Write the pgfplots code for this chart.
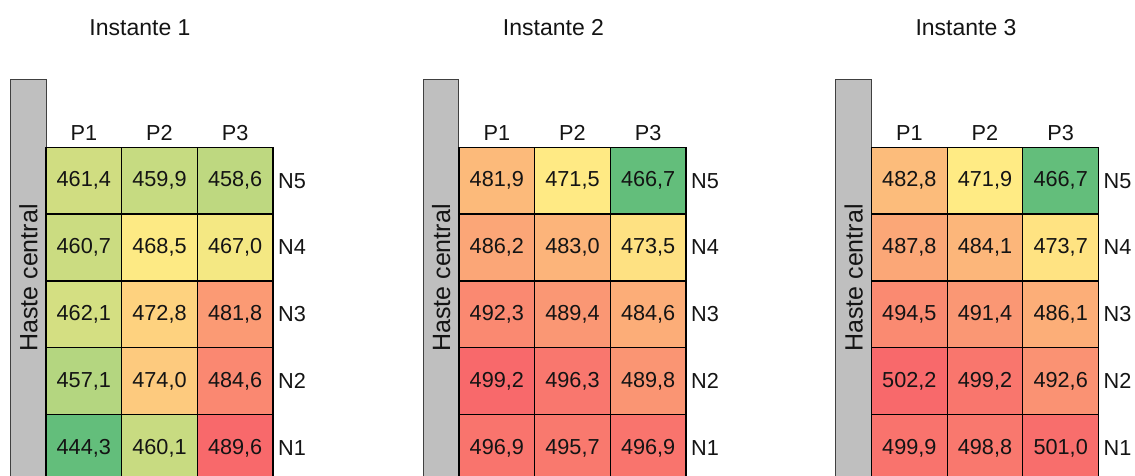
\documentclass[border=0pt]{standalone}
\usepackage{pgfplots}
\pgfplotsset{compat=1.18}
\usepackage{pgfplotstable}
\usepackage{fontspec}
\setmainfont{Liberation Sans}
\definecolor{hastegray}{RGB}{191,191,191}
\definecolor{txt}{RGB}{20,20,20}

% Instante 1 (x: P1=0,P2=1,P3=2 ; y: N1=1 ... N5=5)
\pgfplotstableread{
x y v
0 1 444.3
1 1 460.1
2 1 489.6
0 2 457.1
1 2 474.0
2 2 484.6
0 3 462.1
1 3 472.8
2 3 481.8
0 4 460.7
1 4 468.5
2 4 467.0
0 5 461.4
1 5 459.9
2 5 458.6
}\dataA
% Instante 2
\pgfplotstableread{
x y v
0 1 496.9
1 1 495.7
2 1 496.9
0 2 499.2
1 2 496.3
2 2 489.8
0 3 492.3
1 3 489.4
2 3 484.6
0 4 486.2
1 4 483.0
2 4 473.5
0 5 481.9
1 5 471.5
2 5 466.7
}\dataB
% Instante 3
\pgfplotstableread{
x y v
0 1 499.9
1 1 498.8
2 1 501.0
0 2 502.2
1 2 499.2
2 2 492.6
0 3 494.5
1 3 491.4
2 3 486.1
0 4 487.8
1 4 484.1
2 4 473.7
0 5 482.8
1 5 471.9
2 5 466.7
}\dataC

\pgfplotsset{
  colormap={hA}{rgb255(0pt)=(99,190,123) rgb255(24.5pt)=(255,235,132) rgb255(45.3pt)=(248,105,107)},
  colormap={hB}{rgb255(0pt)=(99,190,123) rgb255(4.6pt)=(255,235,132) rgb255(32.5pt)=(248,105,107)},
  colormap={hC}{rgb255(0pt)=(99,190,123) rgb255(5.1pt)=(255,235,132) rgb255(35.5pt)=(248,105,107)},
  panel/.style={
    scale only axis, width=227pt, height=333.9pt,
    anchor=south west,
    xmin=-0.5, xmax=2.5, ymin=0.5, ymax=5.5,
    xtick={0,1,2}, xticklabels={P1,P2,P3}, xticklabel pos=upper,
    ytick={1,2,3,4,5}, yticklabels={N1,N2,N3,N4,N5}, yticklabel pos=right,
    major tick length=0pt, minor tick length=0pt,
    minor xtick={0.5,1.5}, minor ytick={1.5,2.5,3.5,4.5},
    xminorgrids, yminorgrids,
    minor grid style={black, line width=1.3pt},
    axis line style={black, line width=1.3pt},
    axis on top,
    tick label style={font=\fontsize{21.7}{26}\selectfont, text=txt, inner sep=0pt},
    xticklabel style={anchor=south, yshift=6.5pt},
    yticklabel style={anchor=west, xshift=5pt},
  },
  cellnum/.style={
    draw=none, mark=none, point meta=explicit,
    nodes near coords={\pgfmathprintnumber[fixed,fixed zerofill,precision=1,use comma,assume math mode=true]{\pgfplotspointmeta}},
    nodes near coords align=center,
    every node near coord/.append style={font=\fontsize{21.7}{26}\selectfont, text=txt, inner sep=0pt},
  },
}

\begin{document}
\begin{tikzpicture}[x=1pt,y=1pt]
\useasboundingbox (0,0) rectangle (1135,475);
\clip (0,0) rectangle (1135,475);

% central bars
\foreach \bx in {10.7,423.3,835.8}{
  \draw[fill=hastegray, draw=black!75, line width=1pt] (\bx,-20) rectangle ({\bx+35.5},395);
  \node[rotate=90, font=\fontsize{25}{30}\selectfont, text=txt, inner sep=0pt] at ({\bx+17.8},197) {Haste central};
}

% titles
\node[font=\fontsize{23}{28}\selectfont, text=txt] at (140,447) {Instante 1};
\node[font=\fontsize{23}{28}\selectfont, text=txt] at (553.5,447) {Instante 2};
\node[font=\fontsize{23}{28}\selectfont, text=txt] at (966,447) {Instante 3};

\begin{axis}[panel, at={(46pt,-6.2pt)}, colormap name=hA, point meta min=444.3, point meta max=489.6]
  \addplot[matrix plot*, mesh/cols=3, point meta=explicit] table[x=x,y=y,meta=v]{\dataA};
  \addplot[cellnum] table[x=x,y=y,meta=v]{\dataA};
\end{axis}

\begin{axis}[panel, at={(459pt,-6.2pt)}, colormap name=hB, point meta min=466.7, point meta max=499.2]
  \addplot[matrix plot*, mesh/cols=3, point meta=explicit] table[x=x,y=y,meta=v]{\dataB};
  \addplot[cellnum] table[x=x,y=y,meta=v]{\dataB};
\end{axis}

\begin{axis}[panel, at={(871.5pt,-6.2pt)}, colormap name=hC, point meta min=466.7, point meta max=502.2]
  \addplot[matrix plot*, mesh/cols=3, point meta=explicit] table[x=x,y=y,meta=v]{\dataC};
  \addplot[cellnum] table[x=x,y=y,meta=v]{\dataC};
\end{axis}
\end{tikzpicture}
\end{document}
